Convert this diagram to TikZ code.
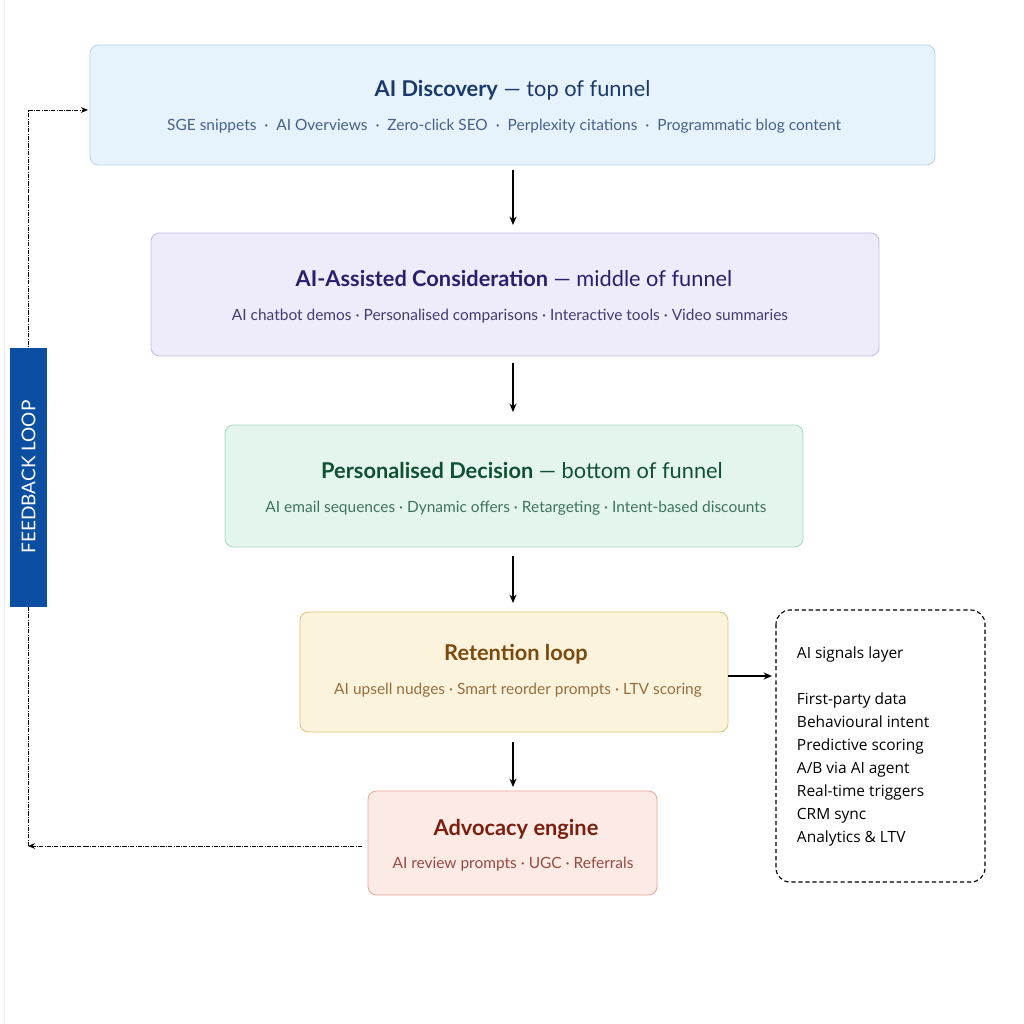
\documentclass[tikz,border=0pt]{standalone}
\usepackage{fontspec}
\setmainfont{Lato}
\newfontfamily\sig{Open Sans}
\usetikzlibrary{arrows.meta}
\begin{document}
\begin{tikzpicture}[x=0.25mm,y=-0.25mm,
 box/.style={draw=#1!60!gray!50, line width=0.6pt, rounded corners=6pt},
 ttl/.style={font=\fontsize{15.5}{18}\selectfont},
 sub/.style={font=\fontsize{11}{13}\selectfont},
 arr/.style={-{Stealth[length=6pt,width=5pt]}, line width=0.8pt},
 fb/.style={densely dash dot, line width=0.7pt, -{Stealth[length=5pt,width=4pt]}}]
\definecolor{b1}{HTML}{E6F2FC}\definecolor{e1}{HTML}{B5D3EE}\definecolor{t1}{HTML}{1B3A6B}
\definecolor{b2}{HTML}{EEEBFB}\definecolor{e2}{HTML}{C4BCE8}\definecolor{t2}{HTML}{2B1E6B}
\definecolor{b3}{HTML}{E4F5EE}\definecolor{e3}{HTML}{A8D9C0}\definecolor{t3}{HTML}{0F5132}
\definecolor{b4}{HTML}{FCF3DC}\definecolor{e4}{HTML}{E0C07A}\definecolor{t4}{HTML}{7A4A0F}
\definecolor{b5}{HTML}{FCEAE4}\definecolor{e5}{HTML}{E3A99A}\definecolor{t5}{HTML}{7A1F10}
\definecolor{fbb}{HTML}{0B4EA2}
\useasboundingbox[fill=white] (0,0) rectangle (1024,1024);
\draw[gray!15] (4,0) -- (4,1024);
% boxes
\draw[fill=b1,draw=e1,rounded corners=6pt,line width=0.6pt] (90,45) rectangle (935,165);
\node[coordinate] (A) at (512.5,105) {};
\node[ttl,text=t1] (At) at (512.5,90) {\textbf{AI Discovery} — top of funnel};
\node[sub,text=t1!80] (As) at (504,126) {SGE snippets \ · \ AI Overviews \ · \ Zero-click SEO \ · \ Perplexity citations \ · \ Programmatic blog content};
\draw[fill=b2,draw=e2,rounded corners=6pt,line width=0.6pt] (151,233) rectangle (879,356);
\node[ttl,text=t2] (Bt) at (514,278) {\textbf{AI-Assisted Consideration} — middle of funnel};
\node[sub,text=t2!70!gray] (Bs) at (510,316) {AI chatbot demos · Personalised comparisons · Interactive tools · Video summaries};
\draw[fill=b3,draw=e3,rounded corners=6pt,line width=0.6pt] (225,425) rectangle (803,547);
\node[ttl,text=t3] (Ct) at (522,470) {\textbf{Personalised Decision} — bottom of funnel};
\node[sub,text=t3!80] (Cs) at (516,508) {AI email sequences · Dynamic offers · Retargeting · Intent-based discounts};
\draw[fill=b4,draw=e4,rounded corners=6pt,line width=0.6pt] (300,612) rectangle (728,732);
\node[ttl,text=t4] (Dt) at (516,654) {\textbf{Retention loop}};
\node[sub,text=t4!80] (Ds) at (518,690) {AI upsell nudges · Smart reorder prompts · LTV scoring};
\draw[fill=b5,draw=e5,rounded corners=6pt,line width=0.6pt] (368,791) rectangle (657,895);
\node[ttl,text=t5] (Et) at (516,829) {\textbf{Advocacy engine}};
\node[sub,text=t5!80] (Es) at (513,864) {AI review prompts · UGC · Referrals};
% signals
\draw[densely dashed,line width=0.8pt,rounded corners=10pt] (776,610) rectangle (985,882);
\node[anchor=north west,font=\sig\fontsize{11}{16.3}\selectfont,align=left] (S) at (792,642)
 {AI signals layer\\[16.3pt]First-party data\\Behavioural intent\\Predictive scoring\\A/B via AI agent\\Real-time triggers\\CRM sync\\Analytics \& LTV};
% arrows
\coordinate (a1) at (513,170); \coordinate (a2) at (513,225);
\coordinate (b1) at (513,363); \coordinate (b2) at (513,412);
\coordinate (c1) at (513,556); \coordinate (c2) at (513,603);
\coordinate (d1) at (513,742); \coordinate (d2) at (513,787);
\coordinate (r1) at (728,676); \coordinate (r2) at (772,676);
\draw[arr] (a1) -- (a2); \draw[arr] (b1) -- (b2); \draw[arr] (c1) -- (c2); \draw[arr] (d1) -- (d2);
\draw[arr] (r1) -- (r2);
% feedback
\coordinate (f0) at (362,846); \coordinate (f1) at (28,846);
\coordinate (g0) at (28,846); \coordinate (g1) at (28,110); \coordinate (g2) at (88,110);
\draw[fb] (f0) -- (f1);
\draw[fb] (g0) -- (g1) -- (g2);
\fill[fbb] (10,348) rectangle (47,607);
\node[rotate=90,text=white,font=\fontsize{13.5}{16}\selectfont] (FB) at (28.5,477) {FEEDBACK LOOP};
\end{tikzpicture}
\end{document}
